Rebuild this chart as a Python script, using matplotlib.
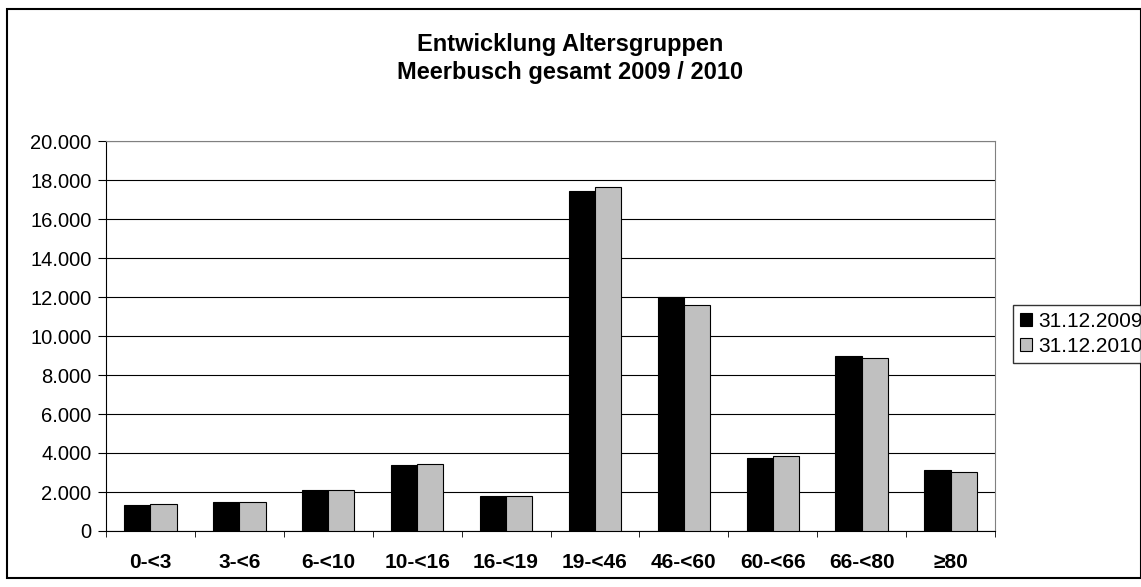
import matplotlib.pyplot as plt
import numpy as np
from matplotlib.patches import Rectangle
from matplotlib.ticker import FuncFormatter

plt.rcParams['font.family'] = ['Liberation Sans', 'DejaVu Sans']

groups = ["0-<3", "3-<6", "6-<10", "10-<16", "16-<19", "19-<46",
          "46-<60", "60-<66", "66-<80", "≥80"]
values_2009 = [1330, 1500, 2120, 3370, 1810, 17440, 11980, 3760, 8990, 3150]
values_2010 = [1400, 1490, 2110, 3440, 1800, 17650, 11580, 3830, 8880, 3040]
series_names = ["31.12.2009", "31.12.2010"]

fig = plt.figure(figsize=(11.41, 5.87), dpi=100)
W, H = 1141, 587

# outer chart border
fig.patches.append(Rectangle((7 / W, 1 - 578 / H), (1141 - 7) / W, (578 - 9) / H,
                             transform=fig.transFigure, fill=False,
                             edgecolor="black", linewidth=1.5))

ax = fig.add_axes([106 / W, 1 - 531 / H, (995 - 106) / W, (531 - 141) / H])

x = np.arange(len(groups))
w = 0.295
ax.bar(x - w / 2, values_2009, w, color="black", edgecolor="black",
       linewidth=0.8, label=series_names[0], zorder=3)
ax.bar(x + w / 2, values_2010, w, color="#c0c0c0", edgecolor="black",
       linewidth=0.8, label=series_names[1], zorder=3)

ax.set_xlim(-0.5, len(groups) - 0.5)
ax.set_ylim(0, 20000)
ax.set_yticks(range(0, 20001, 2000))
ax.yaxis.set_major_formatter(FuncFormatter(lambda v, p: f"{int(v):,}".replace(",", ".")))
ax.grid(axis="y", color="black", linewidth=0.8, zorder=0)

ax.set_xticks(x)
ax.set_xticklabels(groups, fontweight="bold", fontsize=15)
ax.set_xticks(np.arange(len(groups) + 1) - 0.5, minor=True)
ax.tick_params(axis="x", which="major", length=0, pad=16)
ax.tick_params(axis="x", which="minor", length=4, color="black")
ax.tick_params(axis="y", labelsize=14.5, length=5.5, pad=5, color="black")

for side in ["top", "right"]:
    ax.spines[side].set_color("#808080")
for side in ["left", "bottom"]:
    ax.spines[side].set_color("black")

fig.text(570 / W, 1 - 45 / H, "Entwicklung Altersgruppen", ha="center",
         va="center", fontsize=17, fontweight="bold")
fig.text(570 / W, 1 - 73 / H, "Meerbusch gesamt 2009 / 2010", ha="center",
         va="center", fontsize=17, fontweight="bold")

leg = fig.legend(loc="upper left", bbox_to_anchor=(1013 / W, 1 - 305 / H),
                 frameon=True, fancybox=False, edgecolor="black",
                 fontsize=15, handlelength=0.58, handleheight=0.58,
                 handletextpad=0.3, borderaxespad=0, borderpad=0.35,
                 labelspacing=0.25)
leg.get_frame().set_linewidth(1.0)

fig.savefig("out.png", dpi=100)
